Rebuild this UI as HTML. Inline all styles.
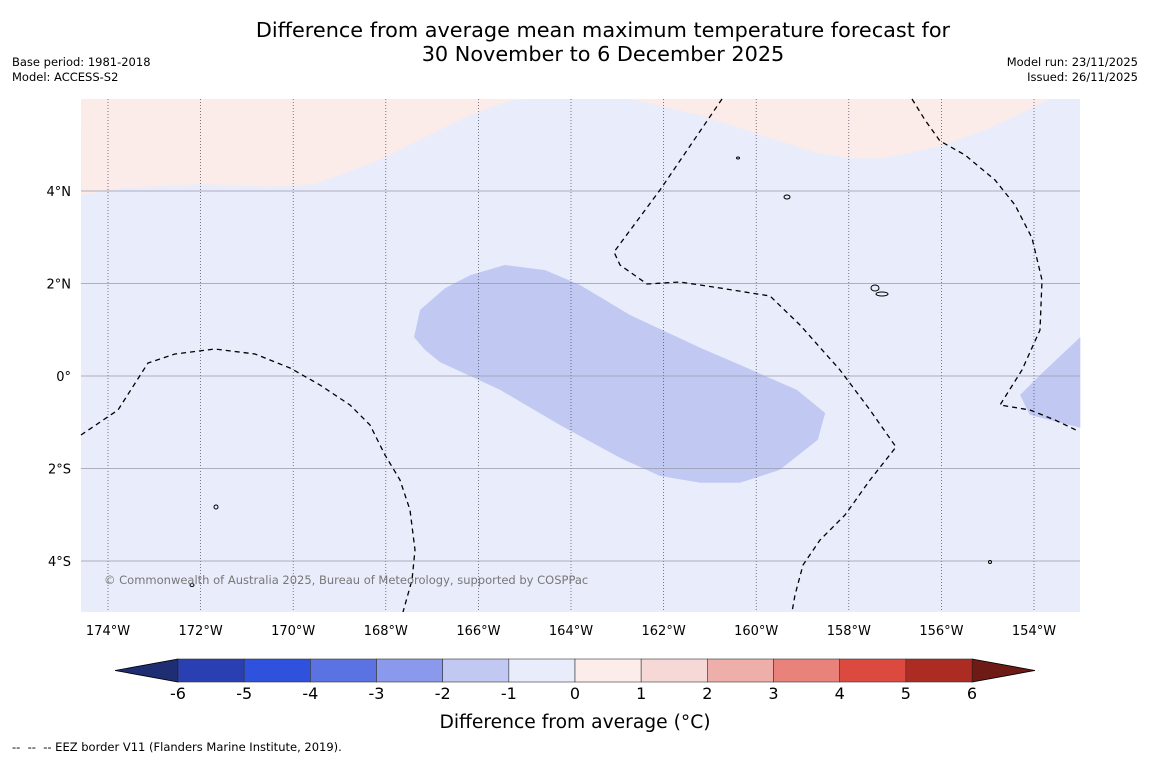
<!DOCTYPE html>
<html><head><meta charset="utf-8"><style>
body{margin:0;background:#fff;width:1150px;height:758px;overflow:hidden;font-family:"DejaVu Sans","Liberation Sans",sans-serif}
.t{position:absolute;color:#000}
</style></head><body>
<div class="t" style="left:0;width:1206px;top:18px;text-align:center;font-size:20.8px;line-height:24px">Difference from average mean maximum temperature forecast for<br>30 November to 6 December 2025</div>
<div class="t" style="left:12px;top:55px;font-size:11.5px;line-height:15px">Base period: 1981-2018<br>Model: ACCESS-S2</div>
<div class="t" style="right:12px;top:55px;font-size:11.5px;line-height:15px;text-align:right">Model run: 23/11/2025<br>Issued: 26/11/2025</div>
<div class="t" style="left:12px;top:740px;font-size:11.5px">-- &nbsp;-- &nbsp;-- EEZ border V11 (Flanders Marine Institute, 2019).</div>
<svg id="svg" width="1150" height="758" style="position:absolute;left:0;top:0"></svg>
<script>
const lonTicks=[-174,-172,-170,-168,-166,-164,-162,-160,-158,-156,-154];
const latTicks=[4,2,0,-2,-4];
const pinkLeft=[[-174.58,3.91],[-173.74,4.06],[-172.01,4.15],[-170.5,4.09],[-169.53,4.15],[-168.13,4.67],[-167.05,5.21],[-166.18,5.64],[-165.32,5.95],[-164.89,5.99]];
const pinkRight=[[-162.73,5.99],[-161.21,5.64],[-159.92,5.21],[-158.73,4.84],[-157.97,4.71],[-157.22,4.71],[-156.03,4.97],[-154.95,5.36],[-153.65,5.99]];
const blobMain=[[-167.26,1.43],[-166.72,1.9],[-166.18,2.18],[-165.43,2.4],[-164.56,2.29],[-163.81,1.97],[-162.73,1.32],[-161.21,0.61],[-160.35,0.24],[-159.12,-0.3],[-158.51,-0.8],[-158.67,-1.38],[-159.49,-2.03],[-160.35,-2.31],[-161.21,-2.31],[-162.08,-2.16],[-162.94,-1.77],[-164.24,-1.06],[-165.53,-0.3],[-166.83,0.3],[-167.15,0.56],[-167.39,0.84]];
const blobRight=[[-153,0.84],[-153.87,0.02],[-154.3,-0.41],[-154.09,-0.84],[-153,-1.12]];
const cbLevels=[-6,-5,-4,-3,-2,-1,0,1,2,3,4,5,6];
const cbColors=["#2a40b2","#2f52de","#5b73e2","#8a99eb","#c1c9f3","#e9ecfa","#fcedeb","#f6d9d7","#eeafab","#e8827b","#dc4a3f","#ac2b23"];
const L=81,R=1080,T=99,B=612;
const x=lon=>108+(lon+174)*46.3;
const y=lat=>376-lat*46.25;
const NS="http://www.w3.org/2000/svg",svg=document.getElementById('svg');
function el(t,a,p){const e=document.createElementNS(NS,t);for(const k in a)e.setAttribute(k,a[k]);(p||svg).appendChild(e);return e;}
let e=el('rect',{x:L,y:T,width:R-L,height:B-T,fill:'#e9ecfa'});


function poly(pts,extra,fill,name){const s=pts.map(p=>x(p[0]).toFixed(1)+','+y(p[1]).toFixed(1)).concat(extra).join(' ');const p=el('polygon',{points:s,fill:fill});

}
poly(pinkLeft,[L+','+T],'#fbebe9','anomaly-region-pink-left');
poly(pinkRight,[],'#fbebe9','anomaly-region-pink-right');
poly(blobMain,[],'#c1c9f3','anomaly-region-blue-main');
poly(blobRight,[],'#c1c9f3','anomaly-region-blue-right');
lonTicks.forEach(v=>{const g=el('line',{x1:x(v),x2:x(v),y1:T,y2:B,stroke:'#445',"stroke-width":0.7,"stroke-dasharray":'1,2'});


const t=el('text',{x:x(v),y:635,"text-anchor":'middle',"font-size":13});t.textContent=Math.abs(v)+'°W';

});
latTicks.forEach(v=>{const g=el('line',{x1:L,x2:R,y1:y(v),y2:y(v),stroke:'#9a9aa8',"stroke-width":0.8});


const t=el('text',{x:71,y:y(v)+5,"text-anchor":'end',"font-size":13});t.textContent=(v==0?'0':Math.abs(v))+'°'+(v>0?'N':v<0?'S':'');

});
const eez=["M81,435 L118,410 L148,363 L175,354 L215,349 L255,354 L290,368 L320,385 L350,405 L370,425 L385,455 L400,480 L410,510 L415,550 L412,580 L403,612",
"M722,99 L660,190 L614,252 L620,265 L647,284 L680,282 L720,288 L770,296 L800,325 L840,370 L870,410 L896,447 L870,480 L845,515 L820,540 L803,565 L795,595 L792,612",
"M912,99 L925,120 L940,141 L965,155 L995,180 L1015,205 L1032,238 L1042,280 L1040,330 L1022,370 L1000,405 L1030,410 L1055,420 L1078,431"];
eez.forEach(d=>{const p=el('path',{d:d,fill:'none',stroke:'#000',"stroke-width":1.3,"stroke-dasharray":'5,4'});

});
[[787,197,3,2],[875,288,4,3],[882,294,6,2],[216,507,2,2],[192,585,2,1.5],[738,158,1.5,1],[990,562,1.5,1.5]].forEach(a=>{const c=el('ellipse',{cx:a[0],cy:a[1],rx:a[2],ry:a[3],fill:'none',stroke:'#000',"stroke-width":1});

});
let ct=el('text',{x:104,y:584,"font-size":11.5,fill:'#777'});ct.textContent='© Commonwealth of Australia 2025, Bureau of Meteorology, supported by COSPPac';


const cx0=178,cw=(972-178)/cbColors.length,cy0=659,ch=23;
let a1=el('polygon',{points:`${cx0},${cy0} 115,${cy0+ch/2} ${cx0},${cy0+ch}`,fill:'#1f2d72',stroke:'#000',"stroke-width":0.8});


let a2=el('polygon',{points:`972,${cy0} 1035,${cy0+ch/2} 972,${cy0+ch}`,fill:'#6e1b16',stroke:'#000',"stroke-width":0.8});


cbColors.forEach((c,i)=>{const r=el('rect',{x:cx0+i*cw,y:cy0,width:cw,height:ch,fill:c,stroke:'#333',"stroke-width":0.6});

});
cbLevels.forEach((v,i)=>{const t=el('text',{x:cx0+i*cw,y:699,"text-anchor":'middle',"font-size":16});t.textContent=v;

});
let cl=el('text',{x:575,y:728,"text-anchor":'middle',"font-size":18.7});cl.textContent='Difference from average (°C)';


</script>
</body></html>
